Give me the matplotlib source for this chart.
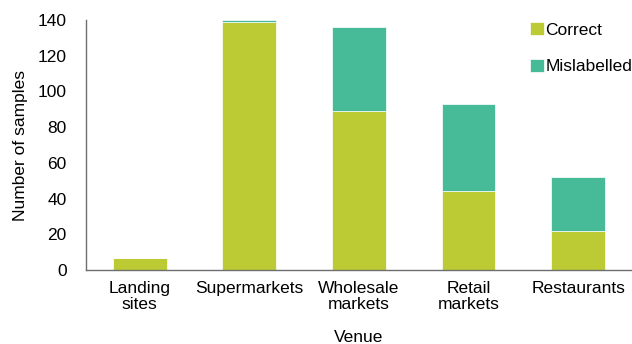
import numpy as np
import matplotlib.pyplot as plt

plt.rcParams['font.family'] = ['Liberation Sans', 'DejaVu Sans']

venues = ["Landing\nsites", "Supermarkets", "Wholesale\nmarkets", "Retail\nmarkets", "Restaurants"]
correct = [7, 139, 89, 44, 22]
mislabelled = [0, 1, 47, 49, 30]

COLOR_CORRECT = '#bccb33'
COLOR_MISLABELLED = '#47ba98'
SPINE_COLOR = '#6e6e6e'
FONT_SIZE = 12.5


def main():
    fig = plt.figure(figsize=(6.32, 3.44), dpi=100)
    ax = fig.add_axes([86 / 632, 74 / 344, 546 / 632, 250 / 344])

    x = np.arange(len(venues))
    ax.bar(x, correct, width=0.49, color=COLOR_CORRECT,
           edgecolor='white', linewidth=0.5, label='Correct')
    ax.bar(x, mislabelled, width=0.49, bottom=correct, color=COLOR_MISLABELLED,
           edgecolor='white', linewidth=0.5, label='Mislabelled')

    ax.set_xlim(-0.49, 4.49)
    ax.set_ylim(0, 140)
    ax.set_yticks(np.arange(0, 141, 20))
    ax.set_xticks(x)
    ax.set_xticklabels(venues, linespacing=1.1)
    ax.tick_params(axis='both', length=0, labelsize=FONT_SIZE, colors='black')
    ax.tick_params(axis='x', pad=8)
    ax.tick_params(axis='y', pad=14)

    for side in ('top', 'right'):
        ax.spines[side].set_visible(False)
    for side in ('left', 'bottom'):
        ax.spines[side].set_color(SPINE_COLOR)
        ax.spines[side].set_linewidth(1.0)

    ax.set_xlabel('Venue', fontsize=FONT_SIZE, labelpad=13)
    ax.set_ylabel('Number of samples', fontsize=FONT_SIZE, labelpad=7)

    ax.legend(loc='upper left', bbox_to_anchor=(530 / 632, 1 - 22 / 344),
              bbox_transform=fig.transFigure, frameon=False, fontsize=FONT_SIZE,
              handlelength=0.8, handleheight=0.8, handletextpad=0.1,
              labelspacing=1.2, borderpad=0, borderaxespad=0)

    fig.savefig('out.png', dpi=100)


if __name__ == "__main__":
    main()
